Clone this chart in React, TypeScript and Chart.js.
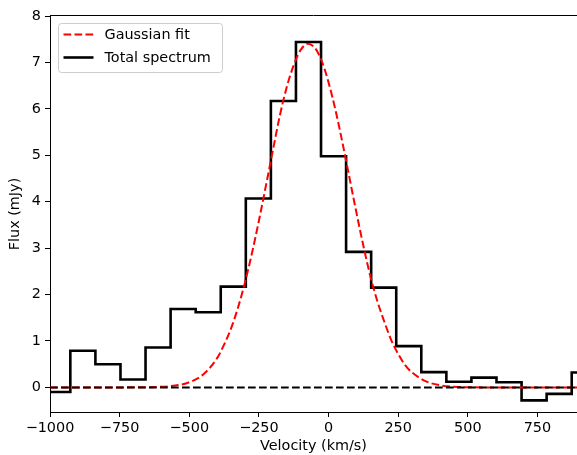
import React, { useEffect, useRef } from "react";
import { Chart, registerables } from "chart.js";

Chart.register(...registerables);

// Histogram bin left edges (km/s) and flux (mJy); last value repeated to close the final bin
const histEdges = [-1000, -927, -837, -747, -657, -567, -477, -387, -297, -207, -117, -27, 63, 153, 243, 333, 423, 513, 603, 693, 783, 873, 960];
const histFlux = [-0.1, 0.79, 0.5, 0.17, 0.86, 1.69, 1.62, 2.17, 4.07, 6.17, 7.44, 4.98, 2.92, 2.15, 0.89, 0.33, 0.12, 0.21, 0.11, -0.28, -0.14, 0.32, 0.32];

// Gaussian fit curve
const gaussVel = [-1000, -900, -800, -700, -600, -550, -500, -450, -400, -375, -350, -325, -300, -275, -250, -225, -200, -175, -150, -125, -100, -75, -50, -25, 0, 25, 50, 75, 100, 125, 150, 175, 200, 225, 250, 275, 300, 350, 400, 450, 500, 600, 700, 800, 900];
const gaussFlux = [0, 0, 0, 0.001, 0.013, 0.04, 0.11, 0.28, 0.63, 0.92, 1.27, 1.72, 2.26, 2.89, 3.59, 4.34, 5.1, 5.85, 6.47, 6.94, 7.27, 7.4, 7.32, 7.04, 6.57, 5.97, 5.27, 4.52, 3.77, 3.05, 2.4, 1.86, 1.42, 1.02, 0.72, 0.48, 0.32, 0.13, 0.046, 0.015, 0.004, 0, 0, 0, 0];

const zeroVel = [-1000, 960];
const zeroFlux = [0, 0];

const xTicks = [-1000, -750, -500, -250, 0, 250, 500, 750];
const yTicks = [0, 1, 2, 3, 4, 5, 6, 7, 8];

const xLabel = "Velocity (km/s)";
const yLabel = "Flux (mJy)";
const gaussLabel = "Gaussian fit";
const histLabel = "Total spectrum";

const FONT = "DejaVu Sans";
const FS = 14.4;
const DASH = [7.7, 3.3];

const fmt = (v: number) => (v < 0 ? "\u2212" + Math.abs(v) : String(v));

const framePlugin = {
  id: "frameLegend",
  afterDraw(chart: any) {
    const { ctx, chartArea } = chart;
    ctx.save();
    // top spine
    ctx.strokeStyle = "#000";
    ctx.lineWidth = 1;
    ctx.beginPath();
    const ty = Math.round(chartArea.top) - 0.5;
    ctx.moveTo(chartArea.left, ty);
    ctx.lineTo(chartArea.right, ty);
    ctx.stroke();

    // legend box
    const bx = 58.5, by = 23.5, bw = 164, bh = 49, r = 3;
    ctx.beginPath();
    ctx.moveTo(bx + r, by);
    ctx.lineTo(bx + bw - r, by);
    ctx.quadraticCurveTo(bx + bw, by, bx + bw, by + r);
    ctx.lineTo(bx + bw, by + bh - r);
    ctx.quadraticCurveTo(bx + bw, by + bh, bx + bw - r, by + bh);
    ctx.lineTo(bx + r, by + bh);
    ctx.quadraticCurveTo(bx, by + bh, bx, by + bh - r);
    ctx.lineTo(bx, by + r);
    ctx.quadraticCurveTo(bx, by, bx + r, by);
    ctx.closePath();
    ctx.fillStyle = "rgba(255,255,255,0.8)";
    ctx.fill();
    ctx.strokeStyle = "#cccccc";
    ctx.lineWidth = 1;
    ctx.stroke();

    const ds = chart.data.datasets;
    const items = [
      { label: ds[1].label, color: ds[1].borderColor, width: ds[1].borderWidth, dash: ds[1].borderDash, y: 34.5 },
      { label: ds[2].label, color: ds[2].borderColor, width: ds[2].borderWidth, dash: [], y: 57.5 },
    ];
    items.forEach((it) => {
      ctx.beginPath();
      ctx.setLineDash(it.dash || []);
      ctx.strokeStyle = it.color;
      ctx.lineWidth = it.width;
      ctx.moveTo(63.5, it.y);
      ctx.lineTo(93.5, it.y);
      ctx.stroke();
      ctx.setLineDash([]);
      ctx.fillStyle = "#000";
      ctx.font = `${FS}px "${FONT}"`;
      ctx.textBaseline = "middle";
      ctx.textAlign = "left";
      ctx.fillText(it.label, 104.5, it.y + 0.5);
    });
    ctx.restore();
  },
};

export default function App() {
  const ref = useRef<HTMLCanvasElement | null>(null);
  useEffect(() => {
    if (!ref.current) return;
    const chart = new Chart(ref.current, {
      type: "line",
      data: {
        datasets: [
          {
            label: "zero",
            data: zeroVel.map((x, i) => ({ x, y: zeroFlux[i] })),
            borderColor: "#000",
            borderWidth: 2,
            borderDash: DASH,
            pointRadius: 0,
            order: 0,
          },
          {
            label: gaussLabel,
            data: gaussVel.map((x, i) => ({ x, y: gaussFlux[i] })),
            borderColor: "#ff0000",
            borderWidth: 2,
            borderDash: DASH,
            pointRadius: 0,
            cubicInterpolationMode: "monotone",
            order: 1,
          },
          {
            label: histLabel,
            data: histEdges.map((x, i) => ({ x, y: histFlux[i] })),
            borderColor: "#000",
            borderWidth: 2.6,
            pointRadius: 0,
            stepped: "before",
            order: 2,
          },
        ],
      } as any,
      options: {
        responsive: false,
        animation: false,
        layout: { padding: { top: 16, left: 0, right: 0, bottom: 0 } },
        plugins: { legend: { display: false }, tooltip: { enabled: false } },
        scales: {
          x: {
            type: "linear",
            min: -1000,
            max: 892,
            afterBuildTicks: (s: any) => {
              s.ticks = xTicks.map((v) => ({ value: v }));
            },
            afterFit: (s: any) => {
              s.height = 43;
            },
            grid: { drawOnChartArea: false, color: "#000", tickLength: 5, lineWidth: 1 },
            border: { color: "#000", width: 1 },
            ticks: {
              color: "#000",
              font: { family: FONT, size: FS },
              padding: 3,
              maxRotation: 0,
              autoSkip: false,
              callback: (v: any) => fmt(Number(v)),
            },
            title: {
              display: true,
              text: xLabel,
              color: "#000",
              font: { family: FONT, size: FS },
              padding: { top: 0, bottom: 0 },
            },
          },
          y: {
            type: "linear",
            min: -0.53,
            max: 8,
            afterBuildTicks: (s: any) => {
              s.ticks = yTicks.map((v) => ({ value: v }));
            },
            afterFit: (s: any) => {
              s.width = 50;
            },
            grid: { drawOnChartArea: false, color: "#000", tickLength: 5, lineWidth: 1 },
            border: { color: "#000", width: 1 },
            ticks: {
              color: "#000",
              font: { family: FONT, size: FS },
              padding: 4,
              autoSkip: false,
              callback: (v: any) => fmt(Number(v)),
            },
            title: {
              display: true,
              text: yLabel,
              color: "#000",
              font: { family: FONT, size: FS },
              padding: { top: 6.4, bottom: 0 },
            },
          },
        },
      },
      plugins: [framePlugin],
    } as any);
    return () => chart.destroy();
  }, []);
  return (
    <div style={{ position: "absolute", left: 0, top: 0, width: 577, height: 455, background: "#fff" }}>
      <canvas ref={ref} width={577} height={455} style={{ display: "block", width: 577, height: 455 }} />
    </div>
  );
}
